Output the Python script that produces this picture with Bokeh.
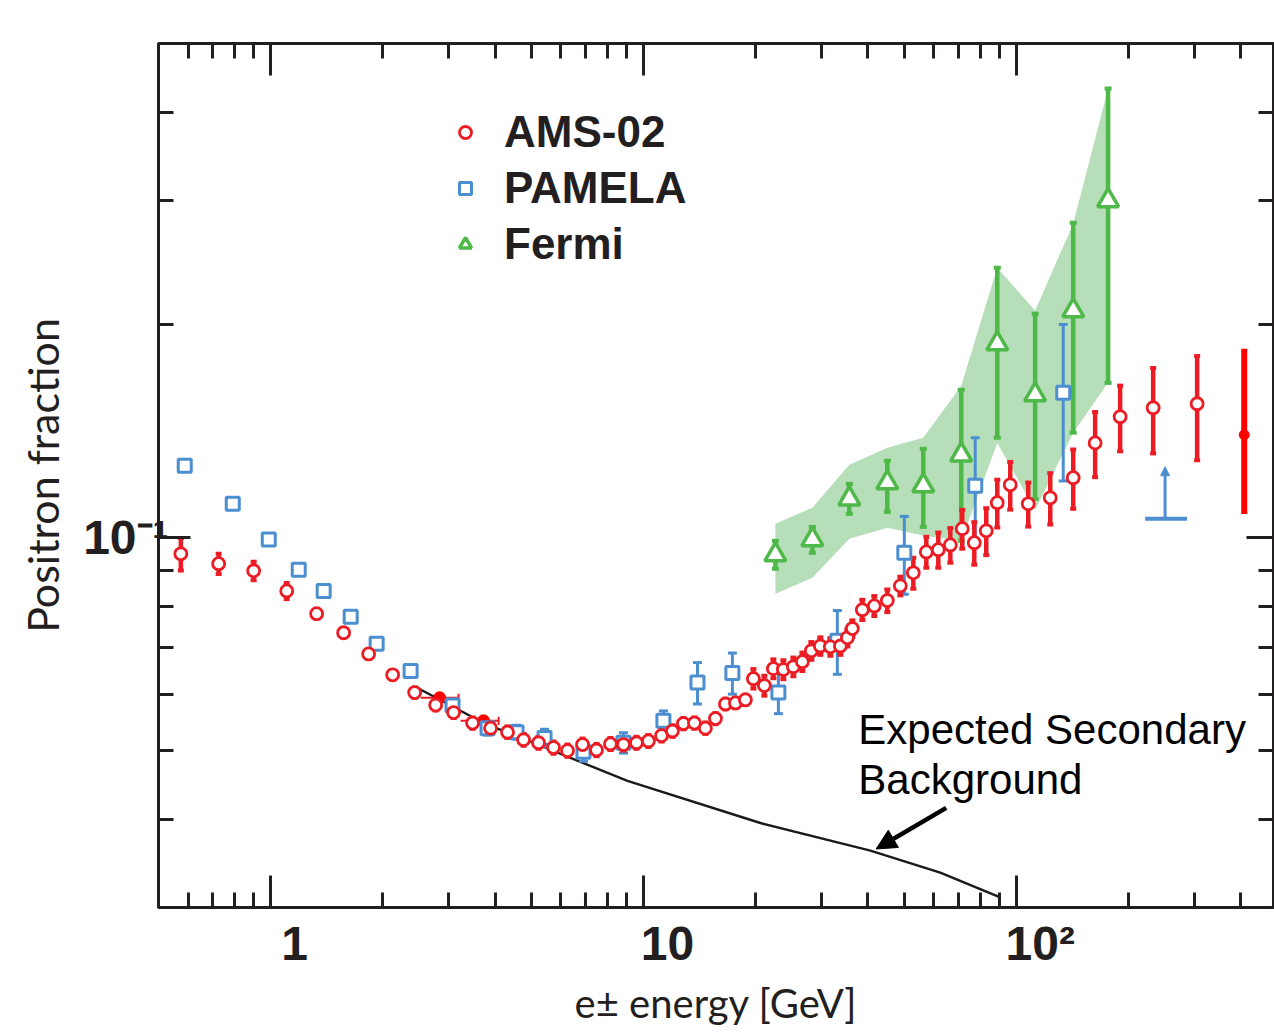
import numpy as np
from bokeh.plotting import figure
from bokeh.models import (FixedTicker, LogAxis, Legend, LegendItem,
                          Arrow, NormalHead, Label, Range1d)
from bokeh.embed import file_html
from bokeh.resources import INLINE

# ---------------- data ----------------
ams_x = [0.574, 0.725, 0.900, 1.104, 1.328, 1.569, 1.831, 2.124, 2.433, 2.770, 3.095, 3.480,
         3.889, 4.319, 4.768, 5.230, 5.737, 6.255, 6.865, 7.482, 8.155, 8.840, 9.577, 10.31,
         11.18, 11.96, 12.80, 13.70, 14.66, 15.60, 16.59, 17.65, 18.77, 19.72, 21.10, 22.31,
         23.73, 25.24, 26.69, 28.21, 29.82, 31.72, 33.75, 35.24, 36.34, 38.65, 41.62, 45.10,
         48.87, 52.96, 57.39, 61.79, 66.56, 71.65, 77.18, 83.11, 88.95, 96.36, 107.7, 123.4,
         142.2, 162.8, 190.0, 233.0, 305.7]
ams_y = [0.0949, 0.0919, 0.0898, 0.0841, 0.0781, 0.0734, 0.0685, 0.0640, 0.0604, 0.0580,
         0.0566, 0.0547, 0.0538, 0.0531, 0.0518, 0.0513, 0.0505, 0.0500, 0.0510, 0.0501,
         0.0511, 0.0510, 0.0513, 0.0516, 0.0525, 0.0533, 0.0546, 0.0547, 0.0538, 0.0555,
         0.0582, 0.0584, 0.0590, 0.0632, 0.0618, 0.0653, 0.0651, 0.0657, 0.0668, 0.0692,
         0.0703, 0.0701, 0.0703, 0.0722, 0.0744, 0.0791, 0.0801, 0.0815, 0.0855, 0.0892,
         0.0955, 0.0962, 0.0977, 0.1030, 0.0984, 0.1023, 0.1121, 0.1188, 0.1117, 0.1139,
         0.1216, 0.1362, 0.1483, 0.1527, 0.1547]
ams_err = [0.0050, 0.0030, 0.0027, 0.0022, 0.0010, 0.0010, 0.0010, 0.0010, 0.0010, 0.0010,
           0.0010, 0.0010, 0.0010, 0.0010, 0.0010, 0.0010, 0.0010, 0.0010, 0.0010, 0.0010,
           0.0010, 0.0010, 0.0010, 0.0010, 0.0010, 0.0010, 0.0010, 0.0010, 0.0010, 0.0010,
           0.0010, 0.0010, 0.0010, 0.0020, 0.0020, 0.0020, 0.0020, 0.0020, 0.0020, 0.0020,
           0.0020, 0.0020, 0.0020, 0.0020, 0.0020, 0.0026, 0.0026, 0.0030, 0.0026, 0.0045,
           0.0048, 0.0055, 0.0055, 0.0065, 0.0068, 0.0078, 0.0087, 0.0092, 0.0080, 0.0095,
           0.0117, 0.0144, 0.0158, 0.0211, 0.0260]

# highest-energy AMS point (filled, asymmetric bar)
ams_last_x = [409.0]
ams_last_y = [0.1398]
ams_last_lo = [0.108]
ams_last_hi = [0.185]

# filled red points with horizontal bars
red_fill_x = [2.839, 3.724]
red_fill_y = [0.0594, 0.0551]
red_fill_xlo = [2.525, 3.232]
red_fill_xhi = [3.192, 4.087]

pam_x = [0.588, 0.791, 0.988, 1.189, 1.387, 1.639, 1.924, 2.373, 3.075, 3.818, 4.565,
         5.428, 6.904, 8.840, 11.31, 13.96, 17.32, 23.01, 33.12, 50.09, 77.63, 133.7]
pam_y = [0.1264, 0.1117, 0.0994, 0.0901, 0.0841, 0.0773, 0.0708, 0.0648, 0.0579, 0.0538,
         0.0531, 0.0521, 0.0498, 0.0513, 0.0551, 0.0624, 0.0644, 0.0604, 0.0715, 0.0952,
         0.1185, 0.1603]
pam_err = [0.0, 0.0, 0.0, 0.0, 0.0, 0.0, 0.0, 0.0, 0.0010, 0.0012, 0.0012, 0.0015, 0.0015,
           0.0017, 0.0018, 0.0042, 0.0043, 0.0040, 0.0074, 0.0120, 0.0200, 0.0400]

# PAMELA upper limit
pam_ul_x = [250.8]
pam_ul_y = [0.1064]
pam_ul_top = [0.1260]
pam_ul_xlo = [221.8]
pam_ul_xhi = [287.3]

fermi_x = [22.59, 28.39, 35.67, 45.10, 56.32, 71.20, 88.95, 112.4, 142.2, 176.4]
fermi_y = [0.0946, 0.0994, 0.1135, 0.1196, 0.1185, 0.1310, 0.1881, 0.1593, 0.2095, 0.2997]
fermi_lo = [0.0904, 0.0952, 0.1081, 0.1088, 0.1036, 0.0990, 0.1385, 0.1135, 0.1408, 0.1656]
fermi_hi = [0.0990, 0.1036, 0.1192, 0.1285, 0.1336, 0.1619, 0.2409, 0.2074, 0.2790, 0.4317]
band_lo = [0.0833, 0.0878, 0.0997, 0.1033, 0.1007, 0.0990, 0.1362, 0.1095, 0.1408, 0.1656]
band_hi = [0.1047, 0.1103, 0.1268, 0.1341, 0.1385, 0.1641, 0.2409, 0.2095, 0.2781, 0.4317]

bg_x = [2.493, 3.724, 5.295, 9.06, 20.59, 40.62, 62.54, 90.6]
bg_y = [0.0612, 0.0547, 0.0508, 0.0453, 0.0395, 0.0361, 0.0336, 0.0310]

x_major = [1, 10, 100]
x_minor = [0.5, 0.6, 0.7, 0.8, 0.9, 2, 3, 4, 5, 6, 7, 8, 9,
           20, 30, 40, 50, 60, 70, 80, 90, 200, 300, 400]
x_labels = {1: "\u2002\u20021", 10: "\u2002\u200210", 100: "\u2002\u200210\u00b2"}
y_major = [0.1]
y_minor = [0.03, 0.04, 0.05, 0.06, 0.07, 0.08, 0.09, 0.2, 0.3, 0.4]
y_labels = {0.1: "10\u207b\u00b9"}

# ---------------- colours ----------------
RED = "#ec1c24"
BRIGHT_RED = "#ff0000"
BLUE = "#4b8fd1"
GREEN = "#4eb848"
BAND = "#b5deb9"
INK = "#231f20"

p = figure(width=1274, height=1034, x_axis_type="log", y_axis_type="log",
           x_range=Range1d(0.5, 490), y_range=Range1d(0.03, 0.5),
           output_backend="svg", toolbar_location=None,
           min_border_left=158, min_border_right=1, min_border_top=43, min_border_bottom=127,
           background_fill_color="white", border_fill_color="white")
p.xgrid.visible = False
p.ygrid.visible = False
p.outline_line_color = INK
p.outline_line_width = 3

top_axis = LogAxis()
right_axis = LogAxis()
p.add_layout(top_axis, "above")
p.add_layout(right_axis, "right")


def style(ax, ticks, minors, major_len, minor_len):
    ax.ticker = FixedTicker(ticks=ticks, minor_ticks=minors)
    ax.axis_line_width = 3
    ax.axis_line_color = INK
    ax.major_tick_in = major_len
    ax.major_tick_out = 0
    ax.minor_tick_in = minor_len
    ax.minor_tick_out = 0
    ax.major_tick_line_width = 3
    ax.minor_tick_line_width = 3
    ax.major_tick_line_color = INK
    ax.minor_tick_line_color = INK


for ax in p.below:
    style(ax, x_major, x_minor, 32, 15)
    ax.major_label_overrides = x_labels
    ax.major_label_text_font = "Liberation Sans"
    ax.major_label_text_font_style = "bold"
    ax.major_label_text_font_size = "48px"
    ax.major_label_text_color = INK
    ax.major_label_standoff = 9
    ax.axis_label = "e\u00b1 energy [GeV]"
    ax.axis_label_text_font = "Lato"
    ax.axis_label_text_font_style = "normal"
    ax.axis_label_text_font_size = "40px"
    ax.axis_label_text_color = INK
    ax.axis_label_standoff = 6

for ax in p.left:
    style(ax, y_major, y_minor, 32, 15)
    ax.major_label_overrides = y_labels
    ax.major_label_text_font = "Liberation Sans"
    ax.major_label_text_font_style = "bold"
    ax.major_label_text_font_size = "48px"
    ax.major_label_text_color = INK
    ax.major_label_standoff = -10
    ax.axis_label = "Positron fraction"
    ax.axis_label_text_font = "Lato"
    ax.axis_label_text_font_style = "normal"
    ax.axis_label_text_font_size = "43px"
    ax.axis_label_text_color = INK
    ax.axis_label_standoff = 12

style(top_axis, x_major, x_minor, 32, 15)
top_axis.major_label_overrides = {1: "", 10: "", 100: ""}
top_axis.major_label_standoff = 0
style(right_axis, y_major, y_minor, 27, 15)
right_axis.major_label_overrides = {0.1: ""}
right_axis.major_label_standoff = 0

# ---------------- glyphs ----------------
p.varea(x=fermi_x, y1=band_lo, y2=band_hi, fill_color=BAND, fill_alpha=1.0)

p.line(bg_x, bg_y, line_color="#1a1a1a", line_width=2.4)

# Fermi error bars
p.segment(x0=fermi_x, y0=fermi_lo, x1=fermi_x, y1=fermi_hi, line_color=GREEN, line_width=4.5)
p.scatter(fermi_x + fermi_x, fermi_lo + fermi_hi, marker="dash", size=7, line_color=GREEN,
          line_width=4)

# PAMELA error bars
pam_lo = [y - e for y, e in zip(pam_y, pam_err)]
pam_hi = [y + e for y, e in zip(pam_y, pam_err)]
pam_bx = [x for x, e in zip(pam_x, pam_err) if e > 0]
pam_blo = [v for v, e in zip(pam_lo, pam_err) if e > 0]
pam_bhi = [v for v, e in zip(pam_hi, pam_err) if e > 0]
p.segment(x0=pam_bx, y0=pam_blo, x1=pam_bx, y1=pam_bhi, line_color=BLUE, line_width=3)
p.scatter(pam_bx + pam_bx, pam_blo + pam_bhi, marker="dash", size=9, line_color=BLUE,
          line_width=3)

# AMS error bars
ams_lo = [y - e for y, e in zip(ams_y, ams_err)]
ams_hi = [y + e for y, e in zip(ams_y, ams_err)]
p.segment(x0=ams_x, y0=ams_lo, x1=ams_x, y1=ams_hi, line_color=RED, line_width=4.5)
p.scatter(ams_x + ams_x, ams_lo + ams_hi, marker="dash", size=6, line_color=RED, line_width=4)

# last AMS point
p.segment(x0=ams_last_x, y0=ams_last_lo, x1=ams_last_x, y1=ams_last_hi,
          line_color=BRIGHT_RED, line_width=6)
p.scatter(ams_last_x, ams_last_y, marker="circle", size=10, fill_color=BRIGHT_RED,
          line_color=BRIGHT_RED)

# filled red points with horizontal bars
p.segment(x0=red_fill_xlo, y0=red_fill_y, x1=red_fill_xhi, y1=red_fill_y,
          line_color=RED, line_width=2)
p.scatter(red_fill_xhi, red_fill_y, marker="dash", angle=np.pi / 2, size=8,
          line_color=RED, line_width=2)
p.scatter(red_fill_x, red_fill_y, marker="circle", size=12, fill_color=BRIGHT_RED,
          line_color=BRIGHT_RED)

# PAMELA upper limit
p.segment(x0=pam_ul_xlo, y0=pam_ul_y, x1=pam_ul_xhi, y1=pam_ul_y, line_color=BLUE, line_width=4)
p.add_layout(Arrow(x_start=pam_ul_x[0], y_start=pam_ul_y[0], x_end=pam_ul_x[0],
                   y_end=pam_ul_top[0], line_color=BLUE, line_width=3,
                   end=NormalHead(size=9, fill_color=BLUE, line_color=BLUE)))

# markers
fermi_r = p.scatter(fermi_x, fermi_y, marker="triangle", size=21, fill_color="white",
                    line_color=GREEN, line_width=3.5)
pam_r = p.scatter(pam_x, pam_y, marker="square", size=13, fill_color="white",
                  line_color=BLUE, line_width=3)
ams_r = p.scatter(ams_x, ams_y, marker="circle", size=12, fill_color="white",
                  line_color=RED, line_width=2.8)

# annotation
p.add_layout(Label(x=37.7, y=0.0535, text="Expected Secondary", text_font="Liberation Sans",
                   text_font_size="42px", text_color="black", text_baseline="alphabetic"))
p.add_layout(Label(x=37.7, y=0.0455, text="Background", text_font="Liberation Sans",
                   text_font_size="42px", text_color="black", text_baseline="alphabetic"))
p.add_layout(Arrow(x_start=64.9, y_start=0.0415, x_end=42.09, y_end=0.0363,
                   line_color="black", line_width=4.5,
                   end=NormalHead(size=20, fill_color="black", line_color="black")))

legend = Legend(items=[LegendItem(label="AMS-02", renderers=[ams_r]),
                       LegendItem(label="PAMELA", renderers=[pam_r]),
                       LegendItem(label="Fermi", renderers=[fermi_r])],
                location=(292, 638), orientation="vertical",
                label_text_font="Liberation Sans", label_text_font_style="bold",
                label_text_font_size="44px", label_text_color=INK,
                glyph_width=30, glyph_height=30, label_standoff=24, spacing=6,
                padding=0, margin=0, border_line_alpha=0, background_fill_alpha=0)
p.add_layout(legend)

open("out.html", "w").write(file_html(p, INLINE))
